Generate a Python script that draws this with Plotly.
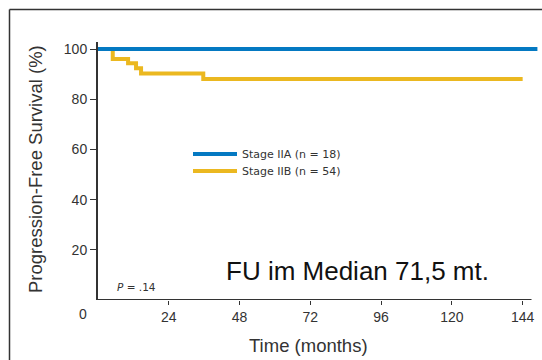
import plotly.graph_objects as go

# Data (Kaplan-Meier steps)
iia_time = [0, 149]
iia_surv = [100, 100]
iib_time = [0, 5.0, 10.2, 12.9, 14.6, 35.7, 144]
iib_surv = [100, 96.0, 94.3, 92.3, 90.2, 88.1, 88.1]
x_ticks = [24, 48, 72, 96, 120, 144]
y_ticks = [20, 40, 60, 80, 100]
names = ["Stage IIA (n = 18)", "Stage IIB (n = 54)"]

BLUE = "#0479c2"
YELLOW = "#ebb820"
FONT = "Liberation Sans, Arial, Helvetica, sans-serif"
LFONT = "DejaVu Sans, Verdana, sans-serif"
AX = "#333333"

L, R, T, B = 98, 4, 42, 60
PW = 542 - L - R
PH = 360 - T - B

def px(xp):
    return (xp - L) / PW

def py(yp):
    return (360 - B - yp) / PH

fig = go.Figure()
fig.add_trace(go.Scatter(x=iib_time, y=iib_surv, mode="lines", name=names[1], legend="legend2",
                         line=dict(color=YELLOW, width=4, shape="hv")))
fig.add_trace(go.Scatter(x=iia_time, y=iia_surv, mode="lines", name=names[0], legend="legend",
                         line=dict(color=BLUE, width=4, shape="hv")))

leg_common = dict(xanchor="left", yanchor="middle", bgcolor="rgba(0,0,0,0)",
                  font=dict(size=11, color="#333", family=LFONT), itemwidth=44,
                  borderwidth=0)

fig.update_layout(
    width=542, height=360,
    margin=dict(l=L, r=R, t=T, b=B),
    paper_bgcolor="white", plot_bgcolor="white",
    font=dict(family=FONT, color=AX),
    showlegend=True,
    legend=dict(x=px(188), y=py(154), **leg_common),
    legend2=dict(x=px(188), y=py(171), **leg_common),
    xaxis=dict(range=[0, 149.2], tickvals=x_ticks, ticks="outside", ticklen=4,
               tickcolor=AX, showgrid=False, zeroline=False, showline=False,
               tickfont=dict(size=14, color=AX)),
    yaxis=dict(range=[0, 102.8], tickvals=y_ticks, ticks="outside", ticklen=6,
               tickcolor=AX, showgrid=False, zeroline=False, showline=True,
               linecolor=AX, linewidth=2, tickfont=dict(size=14, color=AX)),
    shapes=[
        # x axis line
        dict(type="line", xref="x", yref="y", x0=0, x1=147, y0=0, y1=0,
             line=dict(color=AX, width=2)),
        # outer frame (top and left)
        dict(type="line", xref="paper", yref="paper", x0=px(9.5), x1=1.1,
             y0=py(9.5), y1=py(9.5), line=dict(color=AX, width=1.5)),
        dict(type="line", xref="paper", yref="paper", x0=px(9.5), x1=px(9.5),
             y0=py(9.5), y1=-0.3, line=dict(color=AX, width=1.5)),
    ],
    annotations=[
        dict(text="0", xref="paper", yref="paper", x=px(83), y=py(314),
             showarrow=False, font=dict(size=14, color=AX), xanchor="center", yanchor="middle"),
        dict(text="Time (months)", xref="paper", yref="paper", x=px(308), y=py(345),
             showarrow=False, font=dict(size=18.5, color=AX), xanchor="center", yanchor="middle"),
        dict(text="Progression-Free Survival (%)", xref="paper", yref="paper",
             x=px(35), y=py(169), textangle=-90, showarrow=False,
             font=dict(size=18.5, color=AX), xanchor="center", yanchor="middle"),
        dict(text="<i>P</i> = .14", xref="paper", yref="paper", x=px(115), y=py(287),
             showarrow=False, font=dict(size=10.5, color=AX, family=LFONT),
             xanchor="left", yanchor="middle"),
        dict(text="FU im Median 71,5 mt.", xref="paper", yref="paper", x=px(357),
             y=py(271), showarrow=False, font=dict(size=26, color="#111"),
             xanchor="center", yanchor="middle"),
    ],
)

fig.write_html("out.html")
